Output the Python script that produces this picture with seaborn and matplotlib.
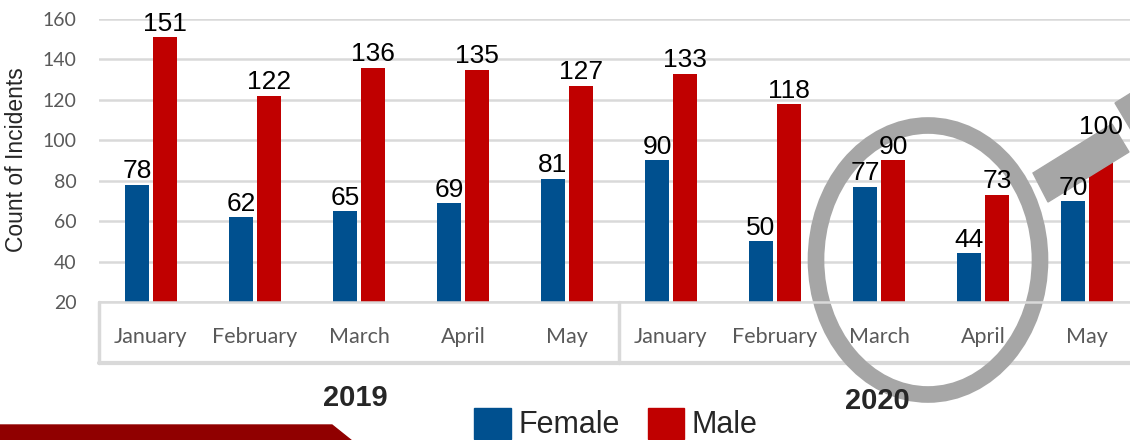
import matplotlib
matplotlib.use("Agg")
import matplotlib.pyplot as plt
import matplotlib.transforms as mtransforms
from matplotlib.patches import Ellipse, Polygon, Patch
import seaborn as sns
import pandas as pd

# data
years = ["2019"] * 5 + ["2020"] * 5
months = ["January", "February", "March", "April", "May"] * 2
female = [78, 62, 65, 69, 81, 90, 50, 77, 44, 70]
male = [151, 122, 136, 135, 127, 133, 118, 90, 73, 100]
genders = ["Female", "Male"]
colors = {"Female": "#00508F", "Male": "#C00000"}

periods = [f"{y} {m}" for y, m in zip(years, months)]
df = pd.DataFrame({
    "period": periods * 2,
    "gender": ["Female"] * 10 + ["Male"] * 10,
    "count": female + male,
})

W, H = 1130, 440
sns.set_theme(style="white")
plt.rcParams["font.family"] = ["Liberation Sans", "DejaVu Sans"]

fig = plt.figure(figsize=(W / 100, H / 100), dpi=100)
ax = fig.add_axes([99 / W, 138 / H, 1040 / W, 283 / H])

sns.barplot(data=df, x="period", y="count", hue="gender", order=periods,
            hue_order=genders, palette=colors, width=0.54, gap=0.16,
            saturation=1, errorbar=None, linewidth=0, legend=False, ax=ax)

for c in ax.containers:
    ax.bar_label(c, padding=1, fontsize=19, color="black", zorder=5)

ax.set_xlim(-0.5, 9.5)
ax.set_ylim(20, 160)
ax.set_yticks(range(20, 161, 20))
ax.set_axisbelow(True)
ax.yaxis.grid(True, color="#d9d9d9", linewidth=1.8)
for s in ["left", "right", "top"]:
    ax.spines[s].set_visible(False)
ax.spines["bottom"].set_color("#d9d9d9")
ax.spines["bottom"].set_linewidth(1.8)
ax.set_xlabel("")
ax.set_ylabel("")
ax.set_xticks(range(10))
ax.set_xticklabels(months, family="Lato")
ax.tick_params(axis="x", length=0, pad=18, labelsize=15.5, labelcolor="#595959")
ax.tick_params(axis="y", length=0, pad=16, labelsize=14, labelcolor="#595959")
for lab in ax.get_yticklabels():
    lab.set_family("Lato")

# multi-level category box
tr = mtransforms.blended_transform_factory(ax.transData, ax.transAxes)
for xb in [-0.5, 4.5]:
    ax.plot([xb, xb], [0, -0.215], transform=tr, color="#d9d9d9", lw=2.5,
            clip_on=False)
ax.plot([-0.5, 9.6], [-0.215, -0.215], transform=tr, color="#d9d9d9", lw=3,
        clip_on=False)

fig.text(355 / W, 1 - 398 / H, "2019", fontsize=21, fontweight="bold",
         ha="center", va="center", zorder=6)
fig.text(877 / W, 1 - 401 / H, "2020", fontsize=21, fontweight="bold",
         ha="center", va="center", zorder=6)

fig.text(17 / W, 1 - 160 / H, "Count of Incidents", rotation=90,
         fontsize=16.5, ha="center", va="center")


def px(pts):
    return [(x / W, 1 - y / H) for x, y in pts]


# magnifying glass
ring = Ellipse((928 / W, 1 - 260 / H), 224 / W, 269 / H, fill=False,
               edgecolor="#A6A6A6", lw=12, transform=fig.transFigure,
               clip_on=False, zorder=2.5)
ax.add_patch(ring)
neck = Polygon(px([(1033, 173), (1112, 124), (1129, 152), (1048, 202)]),
               closed=True, color="#A6A6A6", transform=fig.transFigure,
               clip_on=False, zorder=2.5)
ax.add_patch(neck)
handle = Polygon(px([(1115, 103), (1160, 75), (1180, 110), (1137, 140)]),
                 closed=True, color="#A6A6A6", transform=fig.transFigure,
                 clip_on=False, zorder=2.5)
ax.add_patch(handle)

# banner at bottom
fig.patches.append(Polygon(px([(0, 425), (332, 425), (352, 441), (0, 441)]),
                           closed=True, color="#900000",
                           transform=fig.transFigure))

fig.legend(handles=[Patch(color=colors[g]) for g in genders], labels=genders,
           loc="center", bbox_to_anchor=(616 / W, 1 - 424 / H), ncol=2,
           frameon=False, prop={"family": "Liberation Sans", "size": 22},
           handlelength=1.2, handleheight=1.2, handletextpad=0.25,
           columnspacing=0.9, borderpad=0)

fig.savefig("out.png", dpi=100)
